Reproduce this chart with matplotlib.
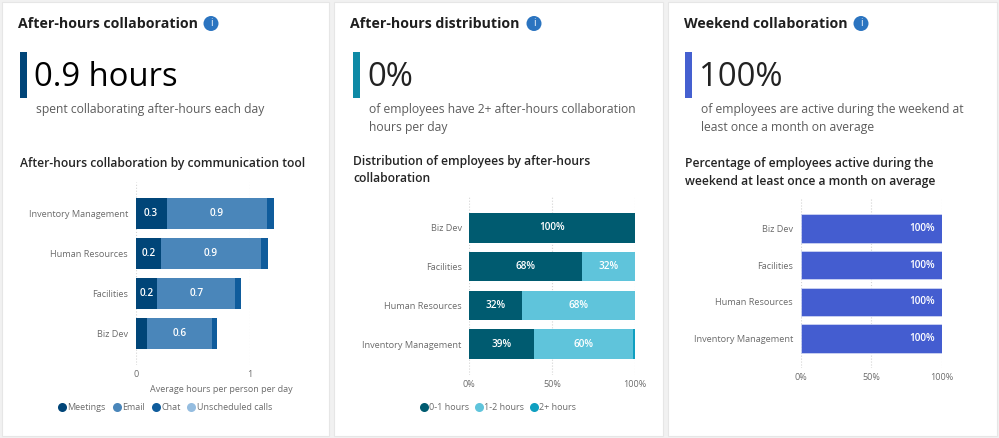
import matplotlib
matplotlib.use("Agg")
import matplotlib.pyplot as plt
from matplotlib.lines import Line2D
from matplotlib.patches import Circle, Rectangle

plt.rcParams['font.family'] = ['Open Sans', 'DejaVu Sans']

W, H = 999, 438

# left chart
tool_groups = ["Inventory Management", "Human Resources", "Facilities", "Biz Dev"]
meetings = [0.27, 0.22, 0.19, 0.10]
email = [0.88, 0.88, 0.68, 0.57]
chat = [0.06, 0.06, 0.05, 0.04]
unscheduled = [0.0, 0.0, 0.0, 0.0]

# middle and right charts
groups = ["Biz Dev", "Facilities", "Human Resources", "Inventory Management"]
hours_0_1 = [100, 68, 32, 39]
hours_1_2 = [0, 32, 68, 60]
hours_2_plus = [0, 0, 0, 1]
weekend = [100, 100, 100, 100]

fig = plt.figure(figsize=(W / 100, H / 100), dpi=100, facecolor='#f1f1f1')


def make_axes(left, top, right, bottom):
    # pixel box to figure fractions, y measured from the top
    ax = fig.add_axes([left / W, 1 - bottom / H, (right - left) / W, (bottom - top) / H])
    ax.patch.set_alpha(0)
    return ax


def ftext(x, y, s, **kw):
    kw.setdefault('va', 'center')
    return fig.text(x / W, 1 - y / H, s, **kw)


def card(left, right, title, icon_x, accent, bar_x, big, big_color, sub):
    fig.add_artist(Rectangle((left / W, 1 - 436 / H), (right - left) / W, 434 / H,
                             transform=fig.transFigure, fc='white', ec='#e6e6e6', lw=0.8, zorder=-1))
    ftext(left + 16.5, 23.5, title, fontsize=10.2, fontweight='bold', color='#1f1f1f')
    # info icon, drawn in pixel space
    fig.add_artist(Circle((icon_x, H - 23.5), 7.5, transform=None, fc='#2b74c0', ec='none'))
    ftext(icon_x, 23.5, "i", fontsize=7, color='white', ha='center')
    fig.add_artist(Rectangle((bar_x / W, 1 - 98 / H), 7 / W, 46 / H,
                             transform=fig.transFigure, fc=accent, ec='none'))
    ftext(bar_x + 14, 77, big, fontsize=23.7, color=big_color)
    for i, line in enumerate(sub):
        ftext(bar_x + 16, 109 + i * 18, line, fontsize=8.7, color='#5c5c5c')


def style_axes(ax, xmin, xmax, ticks, ticklabels, ylabels, ylim):
    ax.set_xlim(xmin, xmax)
    ax.set_ylim(*ylim)
    for s in ax.spines.values():
        s.set_visible(False)
    ax.set_xticks(ticks)
    ax.set_xticklabels(ticklabels, fontsize=6.5, color='#6b6b6b')
    ax.set_yticks(range(len(ylabels)))
    ax.set_yticklabels(ylabels, fontsize=6.6, color='#6b6b6b')
    ax.tick_params(axis='x', length=0, pad=3.5)
    ax.tick_params(axis='y', length=0, pad=5.5)
    ax.grid(axis='x', color='#d4d4d4', ls=':', lw=0.8)
    ax.grid(axis='y', visible=False)
    ax.set_axisbelow(True)


def dots(fig_x, fig_y, labels, colors, spacing=0.6):
    handles = [Line2D([], [], marker='o', ls='none', ms=6.5, color=c, mec='none') for c in colors]
    fig.legend(handles, labels, loc='center', bbox_to_anchor=(fig_x / W, 1 - fig_y / H),
               ncol=len(labels), frameon=False, fontsize=6.5, labelcolor='#6b6b6b',
               handlelength=0.9, handletextpad=0.15, columnspacing=spacing, borderpad=0)


def heading(x, y, lines):
    for i, line in enumerate(lines):
        ftext(x, y + i * 18, line, fontsize=8.75, fontweight='semibold', color='#252525')


# panel 1
card(2, 329, "After-hours collaboration", 211, '#004578', 20, "0.9 hours", 'black',
     ["spent collaborating after-hours each day"])
heading(20, 163, ["After-hours collaboration by communication tool"])
ax1 = make_axes(135.7, 182, 250, 365)
colors1 = ['#004578', '#4a86ba', '#0f5c9c', '#95bde0']
left = [0.0] * 4
for vals, c in zip([meetings, email, chat, unscheduled], colors1):
    bars = ax1.barh(tool_groups, vals, left=left, height=0.775, color=c, edgecolor='none')
    if c in colors1[:2]:
        for b, v in zip(bars, vals):
            if v >= 0.15:
                ax1.text(b.get_x() + v / 2, b.get_y() + b.get_height() / 2, f"{v:.1f}",
                         color='white', fontsize=7.2, fontweight='semibold', ha='center', va='center')
    left = [a + b for a, b in zip(left, vals)]
    for b in bars:
        b.set_clip_on(False)
style_axes(ax1, 0, 1, [0, 1], ["0", "1"], tool_groups, (3.8, -0.78))
ftext(221, 390, "Average hours per person per day", fontsize=6.5, color='#6b6b6b', ha='center')
dots(165, 408, ["Meetings", "Email", "Chat", "Unscheduled calls"], colors1, spacing=0.75)

# panel 2
card(334, 663, "After-hours distribution", 534, '#0e8aa6', 353, "0%", '#222222',
     ["of employees have 2+ after-hours collaboration", "hours per day"])
heading(353, 161, ["Distribution of employees by after-hours", "collaboration"])
ax2 = make_axes(469.3, 197, 635, 375)
colors2 = ['#005b70', '#5fc4db', '#0f9fc0']
left = [0] * 4
for vals, c in zip([hours_0_1, hours_1_2, hours_2_plus], colors2):
    bars = ax2.barh(groups, vals, left=left, height=0.76, color=c, edgecolor='none')
    for b, v in zip(bars, vals):
        if v >= 5:
            ax2.text(b.get_x() + v / 2, b.get_y() + b.get_height() / 2, f"{v}%",
                     color='white', fontsize=7.2, fontweight='semibold', ha='center', va='center')
    left = [a + b for a, b in zip(left, vals)]
style_axes(ax2, 0, 100, [0, 50, 100], ["0%", "50%", "100%"], groups, (3.8, -0.8))
dots(498, 408, ["0-1 hours", "1-2 hours", "2+ hours"], colors2)

# panel 3
card(668, 997, "Weekend collaboration", 861, '#4560d0', 685, "100%", '#222222',
     ["of employees are active during the weekend at", "least once a month on average"])
heading(685, 163, ["Percentage of employees active during the",
                   "weekend at least once a month on average"])
ax3 = make_axes(800.7, 199, 941.7, 368)
bars = ax3.barh(groups, weekend, height=0.77, color='#445dd0', edgecolor='#d5dbf5', linewidth=0.5)
for b, v in zip(bars, weekend):
    ax3.text(v - 5, b.get_y() + b.get_height() / 2, f"{v}%", color='white', fontsize=7.2,
             fontweight='semibold', ha='right', va='center')
style_axes(ax3, 0, 100, [0, 50, 100], ["0%", "50%", "100%"], groups, (3.8, -0.8))

fig.savefig('out.png', dpi=100)
